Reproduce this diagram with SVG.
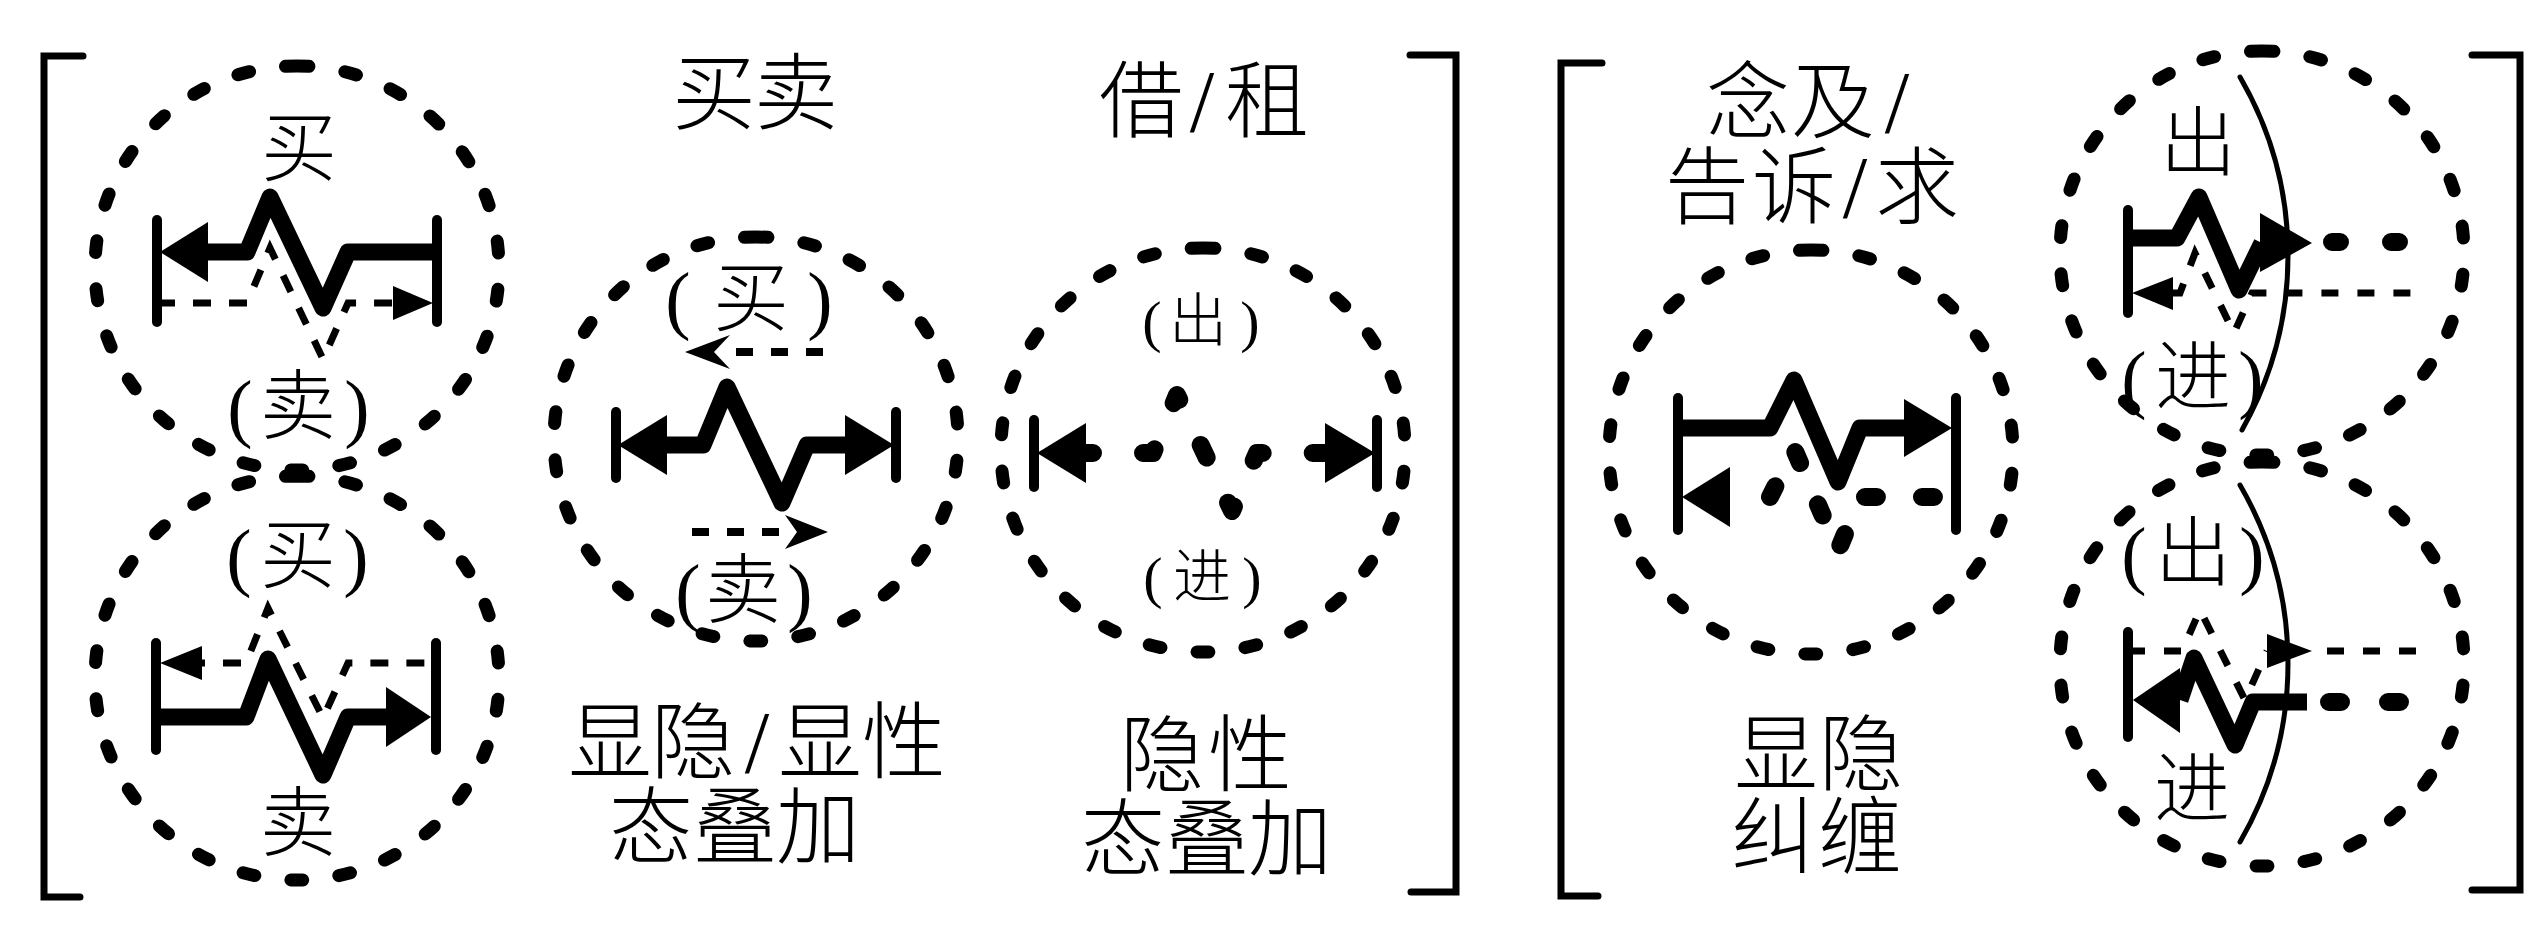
<svg xmlns="http://www.w3.org/2000/svg" width="2543" height="932" viewBox="0 0 2543 932">
<style>
.ring{fill:none;stroke:#000;stroke-width:13;stroke-linecap:round;stroke-dasharray:12 36.35}
.bar{fill:none;stroke:#000;stroke-width:10;stroke-linecap:round}
.thick{fill:none;stroke:#000;stroke-width:17;stroke-linejoin:round}
.tdash{fill:none;stroke:#000;stroke-width:18;stroke-linecap:round;stroke-linejoin:round}
.thin{fill:none;stroke:#000;stroke-width:7;stroke-dasharray:18 18}
.thinm{fill:none;stroke:#000;stroke-width:8;stroke-dasharray:17 18}
.br{fill:none;stroke:#000;stroke-width:7;stroke-linecap:round}
.arc{fill:none;stroke:#000;stroke-width:5;stroke-linecap:round}
.head{fill:#000}
text{font-family:"Liberation Serif","Noto Sans CJK SC",serif;font-weight:300;fill:#000;text-anchor:middle}
.lb{font-size:76px}
.big{font-size:84px}
.sm{font-size:58px}
.sl{font-size:88px}
</style>

<g id="brackets">
<path class="br" d="M83,56 H44 V897 H80"/>
<path class="br" d="M1410,55 H1456 V892 H1411"/>
<path class="br" d="M1602,63 H1561 V896 H1598"/>
<path class="br" d="M2472,55 H2520 V890 H2472"/>
</g>

<g id="circle-tl">
<path class="ring" d="M297,66 A202,202 0 1 1 297,470 A202,202 0 1 1 297,66"/>
<text class="lb" x="299" y="175">买</text>
<line class="bar" x1="157" y1="220" x2="157" y2="322"/>
<line class="bar" x1="437" y1="220" x2="437" y2="322"/>
<path class="thick" d="M205,252 H247 L270,197 L323,308 L348,252 H437"/>
<polygon class="head" points="160,252 208,222 208,282"/>
<path class="thin" d="M157,303 H247 L270,248 L323,359 L348,303 H395"/>
<polygon class="head" points="433,303 393,286 393,320"/>
<text class="lb" y="433"><tspan x="240">(</tspan><tspan x="298">卖</tspan><tspan x="357">)</tspan></text>
</g>

<g id="circle-bl">
<path class="ring" d="M297,476 A202,202 0 1 1 297,880 A202,202 0 1 1 297,476"/>
<text class="lb" y="582"><tspan x="239">(</tspan><tspan x="298">买</tspan><tspan x="356">)</tspan></text>
<line class="bar" x1="156" y1="643" x2="156" y2="750"/>
<line class="bar" x1="436" y1="643" x2="436" y2="750"/>
<path class="thin" style="stroke-dashoffset:15" d="M202,663 H246 L268,608 L323,718 L348,663 H436"/>
<polygon class="head" points="160,663 202,646 202,680"/>
<path class="thick" d="M156,717 H246 L268,659 L323,775 L348,717 H390"/>
<polygon class="head" points="431,717 386,687 386,747"/>
<text class="lb" x="298" y="850">卖</text>
</g>

<g id="circle-m1">
<path class="ring" d="M756,237 A202,202 0 1 1 756,641 A202,202 0 1 1 756,237"/>
<text class="lb" y="325"><tspan x="678">(</tspan><tspan x="751">买</tspan><tspan x="820">)</tspan></text>
<path class="thinm" d="M823,352 H718"/>
<polygon class="head" points="685,352 730,335 714,352 730,369"/>
<line class="bar" x1="616" y1="412" x2="616" y2="478"/>
<line class="bar" x1="896" y1="412" x2="896" y2="478"/>
<path class="thick" d="M664,445 H703 L727,387 L782,503 L807,445 H848"/>
<polygon class="head" points="618,445 667,415 667,475"/>
<polygon class="head" points="894,445 845,415 845,475"/>
<path class="thinm" d="M692,532 H797"/>
<polygon class="head" points="828,532 785,515 797,532 785,549"/>
<text class="lb" y="617"><tspan x="688">(</tspan><tspan x="743">卖</tspan><tspan x="800">)</tspan></text>
</g>

<g id="circle-m2">
<path class="ring" d="M1203,248 A202,202 0 1 1 1203,652 A202,202 0 1 1 1203,248"/>
<text class="sm" y="341"><tspan x="1152">(</tspan><tspan x="1198">出</tspan><tspan x="1250">)</tspan></text>
<line class="bar" x1="1034" y1="420" x2="1034" y2="487"/>
<line class="bar" x1="1377" y1="420" x2="1377" y2="487"/>
<polygon class="head" points="1037,453 1086,423 1086,483"/>
<polygon class="head" points="1375,453 1325,423 1325,483"/>
<path class="tdash" style="stroke-dasharray:14 50;stroke-dashoffset:7" d="M1086,453 H1153 L1177,395 L1232,511 L1257,453 H1325"/>
<text class="sm" y="597"><tspan x="1153">(</tspan><tspan x="1202">进</tspan><tspan x="1252">)</tspan></text>
</g>

<g id="circle-r1">
<path class="ring" d="M1811,250 A202,202 0 1 1 1811,654 A202,202 0 1 1 1811,250"/>
<line class="bar" x1="1678" y1="398" x2="1678" y2="530"/>
<line class="bar" x1="1956" y1="398" x2="1956" y2="530"/>
<path class="thick" d="M1678,428 H1770 L1794,380 L1838,482 L1860,428 H1906"/>
<polygon class="head" points="1952,428 1904,399 1904,457"/>
<polygon class="head" points="1682,497 1730,467 1730,527"/>
<path class="tdash" style="stroke-dasharray:12 45;stroke-dashoffset:17" d="M1730,497 H1770 L1794,449 L1838,551 L1860,497 H1956"/>
</g>

<g id="circle-r2">
<path class="ring" d="M2262,51 A202,202 0 1 1 2262,455 A202,202 0 1 1 2262,51"/>
<path class="arc" d="M2240,77 A355,355 0 0 1 2242,430"/>
<text class="lb" x="2198" y="170">出</text>
<line class="bar" x1="2128" y1="210" x2="2128" y2="313"/>
<path class="thick" d="M2128,238 H2177 L2199,197 L2239,290 L2262,243"/>
<polygon class="head" points="2260,213 2312,243 2260,272"/>
<path class="tdash" d="M2332,242 H2340 M2391,242 H2399"/>
<path class="thin" style="stroke-dasharray:17 19" d="M2173,293 H2180 L2195,253 L2234,333 L2252,293 H2416"/>
<polygon class="head" points="2132,293 2173,277 2173,310"/>
<text class="lb" y="404"><tspan x="2134">(</tspan><tspan x="2193">进</tspan><tspan x="2251">)</tspan></text>
</g>

<g id="circle-r3">
<path class="ring" d="M2262,462 A202,202 0 1 1 2262,866 A202,202 0 1 1 2262,462"/>
<path class="arc" d="M2240,485 A356,356 0 0 1 2240,842"/>
<text class="lb" y="580"><tspan x="2134">(</tspan><tspan x="2193">出</tspan><tspan x="2252">)</tspan></text>
<line class="bar" x1="2128" y1="632" x2="2128" y2="737"/>
<path class="thin" style="stroke-dasharray:17 19" d="M2128,651 H2182 L2200,610 L2245,700 L2267,651"/>
<polygon class="head" points="2267,634 2312,651 2267,668"/>
<path class="thin" style="stroke-dasharray:17 19" d="M2327,651 H2416"/>
<path class="thick" d="M2180,700 L2194,658 L2235,745 L2253,702 H2307"/>
<polygon class="head" points="2133,700 2180,668 2180,733"/>
<path class="tdash" d="M2329,702 H2341 M2388,702 H2400"/>
<text class="lb" x="2192" y="816">进</text>
</g>

<g id="labels">
<text class="big" y="123"><tspan x="714">买</tspan><tspan x="796">卖</tspan></text>
<text class="big" y="131"><tspan x="1141">借</tspan><tspan class="sl" x="1202">/</tspan><tspan x="1267">租</tspan></text>
<text class="big" y="772"><tspan x="610">显</tspan><tspan x="693">隐</tspan><tspan class="sl" x="757">/</tspan><tspan x="820">显</tspan><tspan x="904">性</tspan></text>
<text class="big" y="857"><tspan x="651">态</tspan><tspan x="735">叠</tspan><tspan x="818">加</tspan></text>
<text class="big" y="785"><tspan x="1162">隐</tspan><tspan x="1250">性</tspan></text>
<text class="big" y="869"><tspan x="1123">态</tspan><tspan x="1207">叠</tspan><tspan x="1290">加</tspan></text>
<text class="big" y="132"><tspan x="1748">念</tspan><tspan x="1833">及</tspan><tspan class="sl" x="1897">/</tspan></text>
<text class="big" y="217"><tspan x="1707">告</tspan><tspan x="1794">诉</tspan><tspan class="sl" x="1855">/</tspan><tspan x="1917">求</tspan></text>
<text class="big" y="784"><tspan x="1776">显</tspan><tspan x="1861">隐</tspan></text>
<text class="big" y="867"><tspan x="1773">纠</tspan><tspan x="1860">缠</tspan></text>
</g>
</svg>
